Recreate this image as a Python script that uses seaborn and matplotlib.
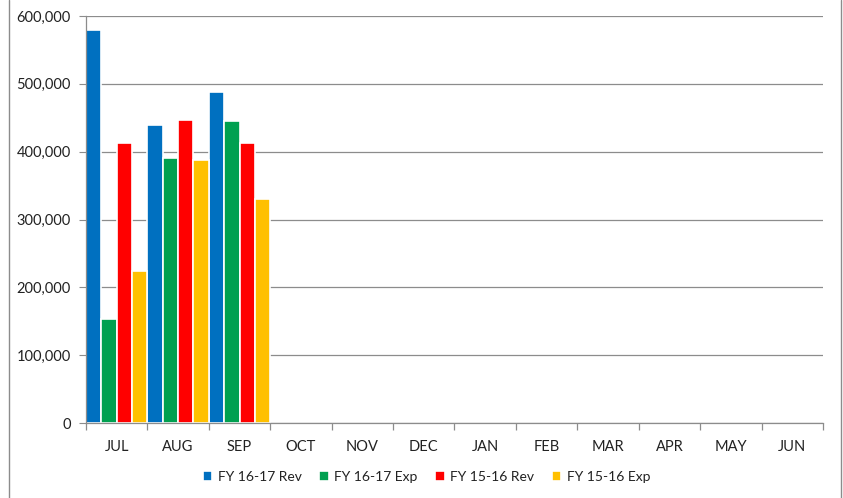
import matplotlib
matplotlib.use("Agg")
import matplotlib.pyplot as plt
from matplotlib.lines import Line2D
from matplotlib.ticker import FuncFormatter, MultipleLocator
import seaborn as sns
import pandas as pd

months = ["JUL", "AUG", "SEP", "OCT", "NOV", "DEC",
          "JAN", "FEB", "MAR", "APR", "MAY", "JUN"]
series_names = ["FY 16-17 Rev", "FY 16-17 Exp", "FY 15-16 Rev", "FY 15-16 Exp"]
fy1617_rev = [579500, 439000, 487500]
fy1617_exp = [153500, 391000, 445500]
fy1516_rev = [413000, 446500, 412500]
fy1516_exp = [224000, 387500, 330000]
colors = ["#0070C0", "#00A050", "#FF0000", "#FFC000"]

rows = []
for name, vals in zip(series_names, [fy1617_rev, fy1617_exp, fy1516_rev, fy1516_exp]):
    for m, v in zip(months, vals):
        rows.append({"Month": m, "Series": name, "Value": v})
df = pd.DataFrame(rows)

sns.set_style("white")
plt.rcParams["font.family"] = ["Lato", "DejaVu Sans"]

fig = plt.figure(figsize=(8.43, 4.98), dpi=100)
ax = fig.add_axes([86 / 843, 1 - 423 / 498, (823 - 86) / 843, (423 - 16) / 498])

sns.barplot(data=df, x="Month", y="Value", hue="Series", order=months,
            hue_order=series_names, palette=colors, width=1.0,
            edgecolor="white", linewidth=1.2, saturation=1, ax=ax, legend=True)

ax.set_xlim(-0.5, 11.5)
ax.set_ylim(0, 600000)
ax.yaxis.set_major_locator(MultipleLocator(100000))
ax.yaxis.set_major_formatter(FuncFormatter(lambda v, p: f"{int(v):,}"))
ax.grid(axis="y", color="#8C8C8C", linewidth=0.9)
ax.set_axisbelow(True)
ax.set_xlabel("")
ax.set_ylabel("")

for s in ["top", "right"]:
    ax.spines[s].set_visible(False)
for s in ["left", "bottom"]:
    ax.spines[s].set_color("#8C8C8C")
    ax.spines[s].set_linewidth(0.9)

ax.tick_params(axis="y", which="major", left=True, length=5, color="#8C8C8C",
               labelsize=10.5, labelcolor="#222222", pad=6)
ax.tick_params(axis="x", which="major", bottom=False, labelsize=10.5,
               labelcolor="#222222", pad=9)
# category boundary ticks on x axis
ax.set_xticks([i + 0.5 for i in range(-1, 12)], minor=True)
ax.tick_params(axis="x", which="minor", bottom=True, length=5, color="#8C8C8C", width=0.9)

handles, labels = ax.get_legend_handles_labels()
ax.legend_.remove()
fig.legend(handles, labels, loc="center", bbox_to_anchor=(0.506, 1 - 477 / 498),
           ncol=4, frameon=False, fontsize=10, handlelength=0.7, handleheight=0.7,
           handletextpad=0.4, columnspacing=1.25, labelcolor="#222222")

# outer chart border
for xpx in (9, 841):
    fig.add_artist(Line2D([xpx / 843, xpx / 843], [0, 1], color="#8C8C8C",
                          linewidth=1, transform=fig.transFigure))

fig.savefig("out.png", dpi=100, facecolor="white")
